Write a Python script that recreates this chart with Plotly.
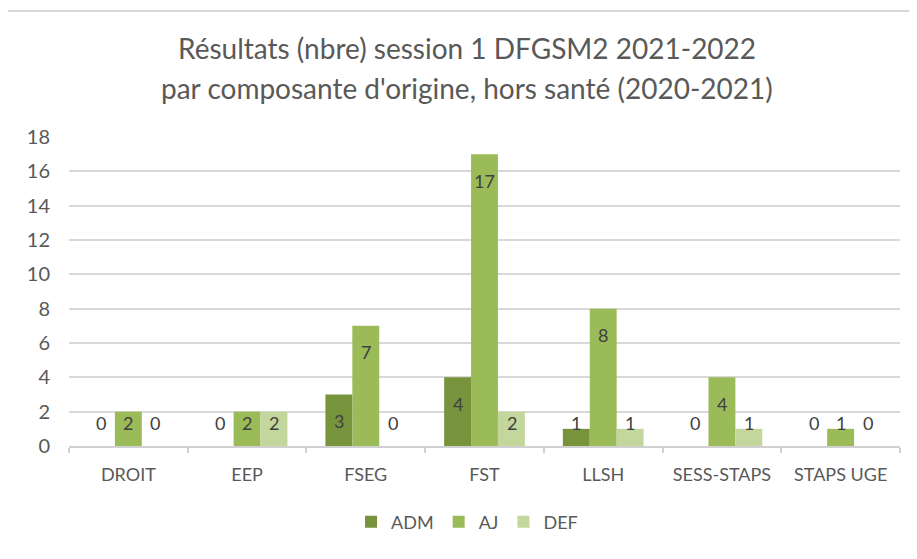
import plotly.graph_objects as go

categories = ["DROIT", "EEP", "FSEG", "FST", "LLSH", "SESS-STAPS", "STAPS UGE"]
adm = [0, 0, 3, 4, 1, 0, 0]
aj = [2, 2, 7, 17, 8, 4, 1]
defa = [0, 2, 0, 2, 1, 1, 0]

series = [("ADM", adm, "#77933C"), ("AJ", aj, "#9BBB59"), ("DEF", defa, "#C3D69B")]

FONT = "Lato"
GREY = "#595959"

fig = go.Figure()
for name, vals, col in series:
    fig.add_trace(go.Bar(name=name, x=categories, y=vals, marker_color=col,
                         marker_line_width=0, hoverinfo="x+y+name"))

# data labels: inside end of bar, but kept above the baseline for short bars
shifts = [-27, 0, 27]
for (name, vals, col), dx in zip(series, shifts):
    for cat, v in zip(categories, vals):
        fig.add_annotation(x=cat, y=max(v - 1.55, 1.34), text=str(v), showarrow=False,
                           xshift=dx, yanchor="middle",
                           font=dict(family=FONT, size=18, color="#404040"))

# two-line title, placed like the original
fig.add_annotation(text="Résultats (nbre) session 1 DFGSM2 2021-2022", xref="paper", yref="paper",
                   x=0.479, y=1.288, showarrow=False, yanchor="middle",
                   font=dict(family=FONT, size=28, color=GREY))
fig.add_annotation(text="par composante d'origine, hors santé (2020-2021)", xref="paper", yref="paper",
                   x=0.479, y=1.1586, showarrow=False, yanchor="middle",
                   font=dict(family=FONT, size=28, color=GREY))

# page body has an 8px margin, so the margins are trimmed by 8
fig.update_layout(
    width=917, height=559,
    paper_bgcolor="white", plot_bgcolor="white",
    margin=dict(l=61, r=25, t=129, b=121),
    barmode="group", bargap=0.32, bargroupgap=0,
    font=dict(family=FONT, color=GREY),
    legend=dict(orientation="h", x=0.479, xanchor="center", y=-0.246, yanchor="middle",
                font=dict(family=FONT, size=18, color=GREY), itemwidth=30,
                traceorder="normal"),
    shapes=[dict(type="rect", xref="paper", yref="paper",
                 x0=-0.0746, x1=1.1, y0=-0.5, y1=1.408,
                 line=dict(color="#D9D9D9", width=2))],
)
fig.update_yaxes(range=[0, 18], dtick=2, showgrid=True, gridcolor="#D9D9D9", gridwidth=1.5,
                 zeroline=False, showline=False, ticks="", ticklabelstandoff=18,
                 tickfont=dict(family=FONT, size=20, color=GREY))
fig.update_xaxes(showline=True, linecolor="#D0D0D0", linewidth=1.5, ticks="outside",
                 tickson="boundaries", ticklen=5, tickcolor="#D0D0D0", tickwidth=1.5,
                 tickfont=dict(family=FONT, size=18, color=GREY), ticklabelstandoff=12)

fig.write_html("out.html")
